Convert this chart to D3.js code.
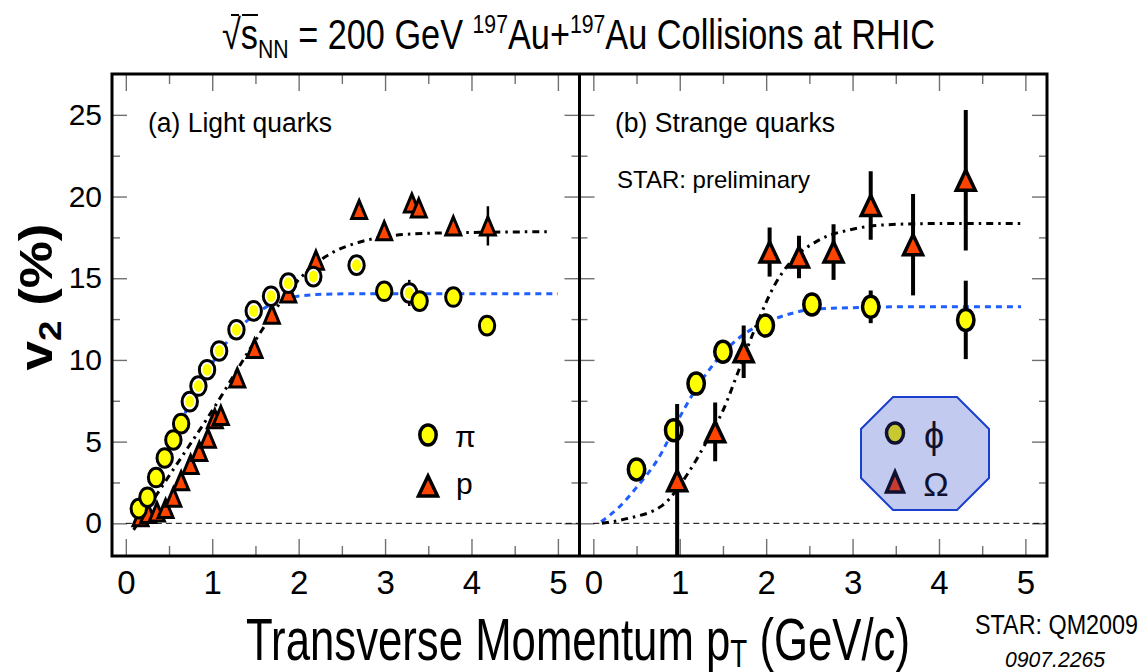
<!DOCTYPE html>
<html><head><meta charset="utf-8">
<script src="https://cdn.jsdelivr.net/npm/d3@7"></script>
<style>
body{margin:0;background:#fff}
svg{display:block}
text{font-family:"Liberation Sans",Arial,sans-serif}
</style>
</head><body>
<svg id="c" width="1140" height="672"></svg>
<script>
// ---------------- data ----------------
const xTicksMajor=[0,1,2,3,4,5];
const xTicksMinor=[0.5,1.5,2.5,3.5,4.5];
const yTicksMajor=[0,5,10,15,20,25];
const yTicksMinor=[2.5,7.5,12.5,17.5,22.5];

// (a) light quarks: pions (filled set and ring set), protons
const pionFilledPt=[0.15,0.25,0.35,0.45,0.55,0.64,2.99,3.40,3.79,4.18];
const pionFilledV2=[0.9,1.6,2.8,4.0,5.1,6.1,14.2,13.6,13.85,12.1];
const pionFilledErr=[0,0,0,0,0,0,0.2,0.2,0.4,0.6];
const pionRingPt=[0.74,0.84,0.94,1.08,1.28,1.48,1.68,1.88,2.17,2.67,3.28];
const pionRingV2=[7.45,8.4,9.4,10.55,11.85,13.0,13.9,14.7,15.1,15.8,14.1];
const pionRingErr=[0,0,0,0,0,0,0,0.3,0.2,0.2,0.8];
const protonPt=[0.17,0.26,0.36,0.46,0.55,0.64,0.75,0.85,0.95,1.03,1.10,1.29,1.49,1.69,1.88,2.20,2.70,2.99,3.31,3.39,3.79,4.19];
const protonV2=[0.4,0.6,0.7,0.9,1.6,2.6,3.6,4.4,5.2,6.4,6.6,8.9,10.7,12.8,14.1,16.1,19.2,17.9,19.6,19.3,18.2,18.2];
const protonErr=[0,0,0,0,0,0,0,0,0,0,0,0,0,0,0,0,0.2,0.2,0.3,0.3,0.4,1.2];

// fits
const pionFitPt=[0.10,0.30,0.50,0.70,0.90,1.10,1.30,1.50,1.70,1.90,2.20,2.60,3.00,4.00,5.00];
const pionFitV2=[0.0,2.2,4.6,6.9,8.9,10.6,11.9,12.8,13.45,13.8,14.0,14.05,14.05,14.05,14.05];
const protonFitPt=[0.09,0.50,1.00,1.50,1.80,2.00,2.20,2.40,2.70,3.00,3.50,4.00,4.90];
const protonFitV2=[-0.4,2.9,6.9,11.2,13.6,14.9,15.9,16.6,17.2,17.55,17.75,17.8,17.85];

// (b) strange quarks
const phiPt=[0.50,0.93,1.19,1.50,1.99,2.53,3.21,4.31];
const phiV2=[3.3,5.7,8.55,10.5,12.1,13.4,13.25,12.45];
const phiErr=[0.4,0.5,0.4,0.4,0.4,0.6,1.0,2.4];
const omegaPt=[0.97,1.41,1.74,2.04,2.38,2.78,3.21,3.70,4.31];
const omegaV2=[2.6,5.6,10.5,16.6,16.3,16.6,19.45,17.05,21.0];
const omegaErr=[4.7,1.8,1.6,1.5,1.3,1.7,2.1,3.1,4.3];
const phiFitPt=[0.09,0.30,0.50,0.75,1.00,1.15,1.40,1.75,2.00,2.20,2.55,3.00,3.50,4.00,4.95];
const phiFitV2=[0.1,1.0,2.2,3.95,6.5,7.9,9.8,11.6,12.3,12.7,13.1,13.2,13.25,13.25,13.25];
const omegaFitPt=[0.10,0.40,0.80,1.10,1.30,1.50,1.70,1.90,2.10,2.30,2.60,3.00,3.50,4.00,4.95];
const omegaFitV2=[0.0,0.3,1.1,3.1,4.9,6.9,9.6,12.3,14.6,16.1,17.3,18.0,18.3,18.35,18.35];

// ---------------- layout ----------------
const svg=d3.select("#c");
const F={l:112,r:1047,t:74,b:556,mid:579.5};
const xDomain=[-0.16,5.25], yDomain=[-2,27.5];
const xL=d3.scaleLinear().domain(xDomain).range([F.l,F.mid]);
const xR=d3.scaleLinear().domain(xDomain).range([F.mid,F.r]);
const y=d3.scaleLinear().domain(yDomain).range([F.b,F.t]);
const zip=(a,b,c)=>a.map((v,i)=>({x:v,y:b[i],e:c?c[i]:0}));

const defs=svg.append("defs");
[["clipL",xL],["clipR",xR]].forEach(([id,x])=>{
  defs.append("clipPath").attr("id",id).append("rect")
    .attr("x",x.range()[0]).attr("y",F.t).attr("width",x.range()[1]-x.range()[0]).attr("height",F.b-F.t);
});

const tickColor="#707070";
function styleAxis(g){
  g.select(".domain").remove();
  g.selectAll(".tick line").attr("stroke",tickColor).attr("stroke-width",1.4);
}
function drawAxes(x,withYLabels){
  const [x0,x1]=x.range();
  svg.append("g").attr("transform",`translate(0,${F.b})`)
    .call(d3.axisBottom(x).tickValues(xTicksMajor).tickSize(-17).tickPadding(15).tickFormat(d3.format("d")))
    .call(styleAxis)
    .call(g=>g.selectAll("text").attr("font-size",33).attr("fill","#000")
      .attr("font-family",'"Liberation Sans",Arial,sans-serif'));
  svg.append("g").attr("transform",`translate(0,${F.b})`)
    .call(d3.axisBottom(x).tickValues(xTicksMinor).tickSize(-10).tickFormat(""))
    .call(styleAxis);
  svg.append("g").attr("transform",`translate(0,${F.t})`)
    .call(d3.axisTop(x).tickValues(xTicksMajor).tickSize(-17).tickFormat(""))
    .call(styleAxis);
  svg.append("g").attr("transform",`translate(0,${F.t})`)
    .call(d3.axisTop(x).tickValues(xTicksMinor).tickSize(-10).tickFormat(""))
    .call(styleAxis);
  const la=svg.append("g").attr("transform",`translate(${x0},0)`)
    .call(d3.axisLeft(y).tickValues(yTicksMajor).tickSize(-15).tickPadding(10).tickFormat(withYLabels?d3.format("d"):""))
    .call(styleAxis);
  la.selectAll("text").attr("font-size",30).attr("fill","#000").attr("font-family",'"Liberation Sans",Arial,sans-serif');
  svg.append("g").attr("transform",`translate(${x0},0)`)
    .call(d3.axisLeft(y).tickValues(yTicksMinor).tickSize(-8).tickFormat(""))
    .call(styleAxis);
  svg.append("g").attr("transform",`translate(${x1},0)`)
    .call(d3.axisRight(y).tickValues(yTicksMajor).tickSize(-15).tickFormat(""))
    .call(styleAxis);
  svg.append("g").attr("transform",`translate(${x1},0)`)
    .call(d3.axisRight(y).tickValues(yTicksMinor).tickSize(-8).tickFormat(""))
    .call(styleAxis);
}
drawAxes(xL,true);
drawAxes(xR,false);

// zero lines
[xL,xR].forEach(x=>{
  svg.append("line").attr("x1",x(0)).attr("x2",x(xDomain[1])).attr("y1",y(0)).attr("y2",y(0))
    .attr("stroke","#000").attr("stroke-width",1).attr("stroke-dasharray","6,4");
});

// fit curves
function curve(x,pts,vals,color,dash,clip){
  const line=d3.line().x(d=>x(d[0])).y(d=>y(d[1])).curve(d3.curveMonotoneX);
  svg.append("path").datum(pts.map((p,i)=>[p,vals[i]]))
    .attr("d",line).attr("fill","none").attr("stroke",color).attr("stroke-width",3)
    .attr("stroke-dasharray",dash).attr("clip-path",`url(#${clip})`);
}
const blue="#1f5fff";
curve(xL,pionFitPt,pionFitV2,blue,"6,5","clipL");
curve(xL,protonFitPt,protonFitV2,"#000","7,5,2.5,5","clipL");
curve(xR,phiFitPt,phiFitV2,blue,"6,5","clipR");
curve(xR,omegaFitPt,omegaFitV2,"#000","7,5,2.5,5","clipR");

// marker helpers
function errBars(x,data,w,clip){
  svg.append("g").attr("clip-path",`url(#${clip})`).selectAll("line").data(data.filter(d=>d.e>0)).join("line")
    .attr("x1",d=>x(d.x)).attr("x2",d=>x(d.x)).attr("y1",d=>y(d.y-d.e)).attr("y2",d=>y(d.y+d.e))
    .attr("stroke","#000").attr("stroke-width",w);
}
function triPath(w,h){return `M0,${-h/2}L${w/2},${h/2}L${-w/2},${h/2}Z`;}
function triangles(x,data,w,h,sw,fill){
  svg.append("g").selectAll("path").data(data).join("path")
    .attr("transform",d=>`translate(${x(d.x)},${y(d.y)})`)
    .attr("d",triPath(w,h)).attr("fill",fill).attr("stroke","#000").attr("stroke-width",sw)
    .attr("stroke-linejoin","miter");
}
function ellipses(x,data,rx,ry,sw,fill){
  svg.append("g").selectAll("ellipse").data(data).join("ellipse")
    .attr("cx",d=>x(d.x)).attr("cy",d=>y(d.y)).attr("rx",rx).attr("ry",ry)
    .attr("fill",fill).attr("stroke","#000").attr("stroke-width",sw);
}
const yellow="#ffff00", red="#ff4400";

// (a)
const protons=zip(protonPt,protonV2,protonErr);
errBars(xL,protons,2.5,"clipL");
triangles(xL,protons,15,18,3,red);
const pionsF=zip(pionFilledPt,pionFilledV2,pionFilledErr);
const pionsR=zip(pionRingPt,pionRingV2,pionRingErr);
errBars(xL,pionsF.concat(pionsR),2.5,"clipL");
ellipses(xL,pionsR,7.7,9.3,3,"#fff");
svg.append("g").selectAll("ellipse").data(pionsR).join("ellipse")
  .attr("cx",d=>xL(d.x)).attr("cy",d=>y(d.y)).attr("rx",4.6).attr("ry",6).attr("fill",yellow);
ellipses(xL,pionsF,7.7,9.3,3,yellow);

// (b)
const phis=zip(phiPt,phiV2,phiErr);
errBars(xR,phis,4,"clipR");
ellipses(xR,phis,8.2,10.5,3.5,yellow);
const omegas=zip(omegaPt,omegaV2,omegaErr);
errBars(xR,omegas,4,"clipR");
triangles(xR,omegas,19,20,3.5,red);

// frame
svg.append("rect").attr("x",F.l).attr("y",F.t).attr("width",F.r-F.l).attr("height",F.b-F.t)
  .attr("fill","none").attr("stroke","#000").attr("stroke-width",3);
svg.append("line").attr("x1",F.mid).attr("x2",F.mid).attr("y1",F.t).attr("y2",F.b)
  .attr("stroke","#000").attr("stroke-width",3);

// legend (a)
svg.append("ellipse").attr("cx",428).attr("cy",435).attr("rx",8.2).attr("ry",10)
  .attr("fill",yellow).attr("stroke","#000").attr("stroke-width",3.5);
svg.append("path").attr("transform","translate(428,486)").attr("d",triPath(19,20))
  .attr("fill",red).attr("stroke","#000").attr("stroke-width",3.5);
svg.append("text").attr("x",455).attr("y",447).attr("font-size",30).text("π");
svg.append("text").attr("x",456).attr("y",494).attr("font-size",30).text("p");

// legend (b): octagon
const oc={x:925,y:453.5,hw:64,hh:56.5,c:32};
const oct=[[oc.x-oc.hw+oc.c,oc.y-oc.hh],[oc.x+oc.hw-oc.c,oc.y-oc.hh],[oc.x+oc.hw,oc.y-oc.hh+oc.c],[oc.x+oc.hw,oc.y+oc.hh-oc.c],
  [oc.x+oc.hw-oc.c,oc.y+oc.hh],[oc.x-oc.hw+oc.c,oc.y+oc.hh],[oc.x-oc.hw,oc.y+oc.hh-oc.c],[oc.x-oc.hw,oc.y-oc.hh+oc.c]];
svg.append("polygon").attr("points",oct.map(p=>p.join(",")).join(" "))
  .attr("fill","#c2caf0").attr("stroke","#1a3fcc").attr("stroke-width",2);
svg.append("ellipse").attr("cx",895).attr("cy",433).attr("rx",8.5).attr("ry",10).attr("fill","#c8c832").attr("stroke","#101030").attr("stroke-width",3.5);
svg.append("path").attr("transform","translate(895,482)").attr("d",triPath(17,20)).attr("fill","#c83c30").attr("stroke","#101030").attr("stroke-width",3.5);
svg.append("text").attr("x",934).attr("y",448).attr("text-anchor","middle").attr("font-size",36)
  .attr("font-family",'"Liberation Serif","Times New Roman",serif').attr("fill","#101030").text("ϕ");
svg.append("text").attr("x",936).attr("y",496).attr("text-anchor","middle").attr("font-size",34)
  .attr("font-family",'"Liberation Serif","Times New Roman",serif').attr("fill","#101030").text("Ω");

// panel texts
svg.append("text").attr("x",148).attr("y",132).attr("font-size",27).attr("textLength",184).attr("lengthAdjust","spacingAndGlyphs").text("(a) Light quarks");
svg.append("text").attr("x",615).attr("y",132).attr("font-size",27).attr("textLength",220).attr("lengthAdjust","spacingAndGlyphs").text("(b) Strange quarks");
svg.append("text").attr("x",617).attr("y",188).attr("font-size",24).attr("textLength",193).attr("lengthAdjust","spacingAndGlyphs").text("STAR: preliminary");

// title
const title=svg.append("text").attr("x",222).attr("y",49).attr("font-size",42)
  .attr("textLength",713).attr("lengthAdjust","spacingAndGlyphs");
title.append("tspan").text("√s");
title.append("tspan").attr("font-size",26).attr("dy",9).text("NN");
title.append("tspan").attr("dy",-9).text(" = 200 GeV ");
title.append("tspan").attr("font-size",26).attr("dy",-16).text("197");
title.append("tspan").attr("dy",16).text("Au+");
title.append("tspan").attr("font-size",26).attr("dy",-16).text("197");
title.append("tspan").attr("dy",16).text("Au Collisions at RHIC");
{
  const n=title.node();
  const s0=n.getStartPositionOfChar(0).x, s1=n.getEndPositionOfChar(1).x;
  svg.append("line").attr("x1",s0+9).attr("x2",s0+17).attr("y1",15).attr("y2",15).attr("stroke","#000").attr("stroke-width",2);
  svg.append("line").attr("x1",s0+20).attr("x2",s1).attr("y1",15).attr("y2",15).attr("stroke","#000").attr("stroke-width",2);
}

// y label
const yl=svg.append("text").attr("transform","translate(52,297) rotate(-90)").attr("text-anchor","middle")
  .attr("font-weight","bold").attr("font-size",46).attr("textLength",147).attr("lengthAdjust","spacingAndGlyphs");
yl.append("tspan").text("v");
yl.append("tspan").attr("font-size",32).attr("dy",9).text("2");
yl.append("tspan").attr("dy",-9).text(" (%)");

// x label
const xl=svg.append("text").attr("x",246).attr("y",660).attr("font-size",60)
  .attr("textLength",664).attr("lengthAdjust","spacingAndGlyphs");
xl.append("tspan").text("Transverse Momentum p");
xl.append("tspan").attr("font-size",38).attr("dy",7).text("T");
xl.append("tspan").attr("dy",-7).text(" (GeV/c)");

// credits
svg.append("text").attr("x",975).attr("y",634).attr("font-size",27).attr("textLength",163).attr("lengthAdjust","spacingAndGlyphs").text("STAR: QM2009");
svg.append("text").attr("x",1005).attr("y",667).attr("font-size",22).attr("font-style","italic").attr("textLength",100).attr("lengthAdjust","spacingAndGlyphs").text("0907.2265");
</script>
</body></html>
